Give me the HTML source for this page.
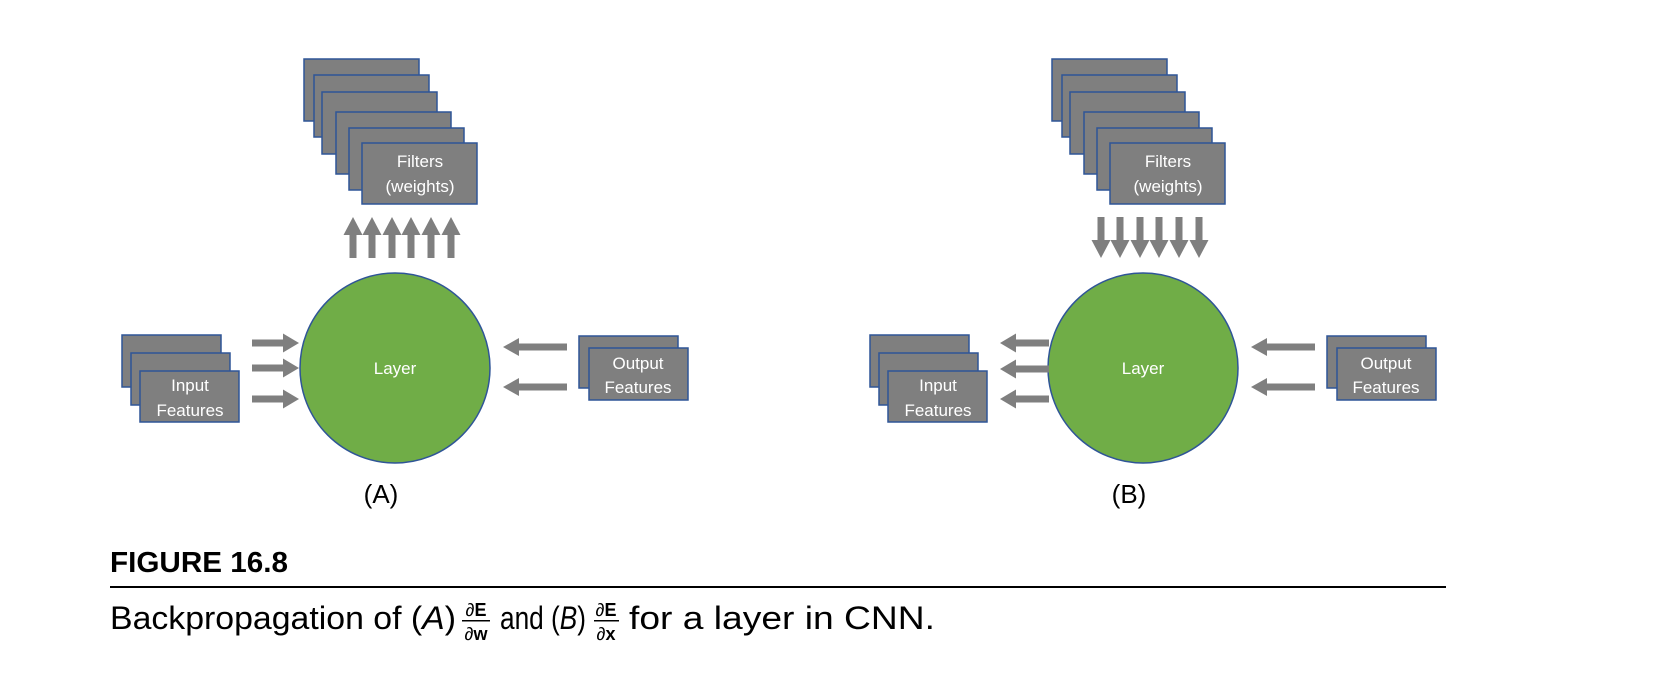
<!DOCTYPE html>
<html><head><meta charset="utf-8"><style>
html,body{margin:0;padding:0;background:#fff;}
svg{display:block;}
</style></head><body>
<svg width="1658" height="674" viewBox="0 0 1658 674" xmlns="http://www.w3.org/2000/svg" font-family="Liberation Sans, sans-serif">
<defs>
<g id="fstack">
<rect x="304" y="59" width="115" height="62" fill="#7f7f7f" stroke="#2f5597" stroke-width="1.5"/>
<rect x="314" y="75" width="115" height="62" fill="#7f7f7f" stroke="#2f5597" stroke-width="1.5"/>
<rect x="322" y="92" width="115" height="62" fill="#7f7f7f" stroke="#2f5597" stroke-width="1.5"/>
<rect x="336" y="112" width="115" height="62" fill="#7f7f7f" stroke="#2f5597" stroke-width="1.5"/>
<rect x="349" y="128" width="115" height="62" fill="#7f7f7f" stroke="#2f5597" stroke-width="1.5"/>
<rect x="362" y="143" width="115" height="61" fill="#7f7f7f" stroke="#2f5597" stroke-width="1.5"/>
<text x="420" y="167" fill="#fff" font-size="17" text-anchor="middle">Filters</text>
<text x="420" y="192" fill="#fff" font-size="17" text-anchor="middle">(weights)</text>
<circle cx="395" cy="368" r="95" fill="#70ad47" stroke="#2f5597" stroke-width="1.5"/>
<text x="395" y="374" fill="#fff" font-size="17" text-anchor="middle">Layer</text>
<rect x="122" y="335" width="99" height="52" fill="#7f7f7f" stroke="#2f5597" stroke-width="1.5"/>
<rect x="131" y="353" width="99" height="52" fill="#7f7f7f" stroke="#2f5597" stroke-width="1.5"/>
<rect x="140" y="371" width="99" height="51" fill="#7f7f7f" stroke="#2f5597" stroke-width="1.5"/>
<text x="190" y="391" fill="#fff" font-size="17" text-anchor="middle">Input</text>
<text x="190" y="416" fill="#fff" font-size="17" text-anchor="middle">Features</text>
<rect x="579" y="336" width="99" height="52" fill="#7f7f7f" stroke="#2f5597" stroke-width="1.5"/>
<rect x="589" y="348" width="99" height="52" fill="#7f7f7f" stroke="#2f5597" stroke-width="1.5"/>
<text x="638" y="369" fill="#fff" font-size="17" text-anchor="middle">Output</text>
<text x="638" y="393" fill="#fff" font-size="17" text-anchor="middle">Features</text>
<g fill="#7f7f7f">
<polygon points="567,343.5 519,343.5 519,338 503,347 519,356 519,350.5 567,350.5"/>
<polygon points="567,383.5 519,383.5 519,378 503,387 519,396 519,390.5 567,390.5"/>
</g>
</g>
<g id="up"><polygon points="-3.5,41 -3.5,18 -9.5,18 0,0 9.5,18 3.5,18 3.5,41" fill="#7f7f7f"/></g>
<g id="down"><polygon points="-3.5,0 -3.5,23 -9.5,23 0,41 9.5,23 3.5,23 3.5,0" fill="#7f7f7f"/></g>
<g id="right"><polygon points="0,-3.5 31,-3.5 31,-9.5 47,0 31,9.5 31,3.5 0,3.5" fill="#7f7f7f"/></g>
<g id="left"><polygon points="49,-3.5 16,-3.5 16,-9.5 0,0 16,9.5 16,3.5 49,3.5" fill="#7f7f7f"/></g>
</defs>

<!-- Panel A -->
<use href="#fstack"/>
<use href="#up" x="353" y="217"/><use href="#up" x="372" y="217"/><use href="#up" x="392" y="217"/>
<use href="#up" x="411" y="217"/><use href="#up" x="431" y="217"/><use href="#up" x="451" y="217"/>
<use href="#right" x="252" y="343"/><use href="#right" x="252" y="368"/><use href="#right" x="252" y="399"/>
<text x="381" y="503" font-size="26" text-anchor="middle" fill="#000">(A)</text>

<!-- Panel B -->
<g transform="translate(748,0)">
<use href="#fstack"/>
<use href="#down" x="353" y="217"/><use href="#down" x="372" y="217"/><use href="#down" x="392" y="217"/>
<use href="#down" x="411" y="217"/><use href="#down" x="431" y="217"/><use href="#down" x="451" y="217"/>
<use href="#left" x="252" y="343"/><use href="#left" x="252" y="369"/><use href="#left" x="252" y="399"/>
<text x="381" y="503" font-size="26" text-anchor="middle" fill="#000">(B)</text>
</g>

<!-- Caption -->
<text x="110" y="572" font-size="29" font-weight="bold" textLength="178" lengthAdjust="spacingAndGlyphs" fill="#000">FIGURE 16.8</text>
<rect x="110" y="586" width="1336" height="2" fill="#000"/>
<text x="110" y="629" font-size="32" textLength="346" lengthAdjust="spacingAndGlyphs" fill="#000">Backpropagation of (<tspan font-style="italic">A</tspan>)</text>
<text x="476" y="616" font-size="18" text-anchor="middle" font-weight="bold" fill="#000"><tspan font-weight="normal" font-style="italic">∂</tspan>E</text>
<rect x="462" y="620" width="28" height="1.5" fill="#000"/>
<text x="476" y="640" font-size="18" text-anchor="middle" font-weight="bold" fill="#000"><tspan font-weight="normal" font-style="italic">∂</tspan>w</text>
<text x="500" y="629" font-size="32" textLength="86" lengthAdjust="spacingAndGlyphs" fill="#000">and (<tspan font-style="italic">B</tspan>)</text>
<text x="606" y="616" font-size="18" text-anchor="middle" font-weight="bold" fill="#000"><tspan font-weight="normal" font-style="italic">∂</tspan>E</text>
<rect x="594" y="620" width="25" height="1.5" fill="#000"/>
<text x="606" y="640" font-size="18" text-anchor="middle" font-weight="bold" fill="#000"><tspan font-weight="normal" font-style="italic">∂</tspan>x</text>
<text x="629" y="629" font-size="32" textLength="306" lengthAdjust="spacingAndGlyphs" fill="#000">for a layer in CNN.</text>
</svg>
</body></html>
